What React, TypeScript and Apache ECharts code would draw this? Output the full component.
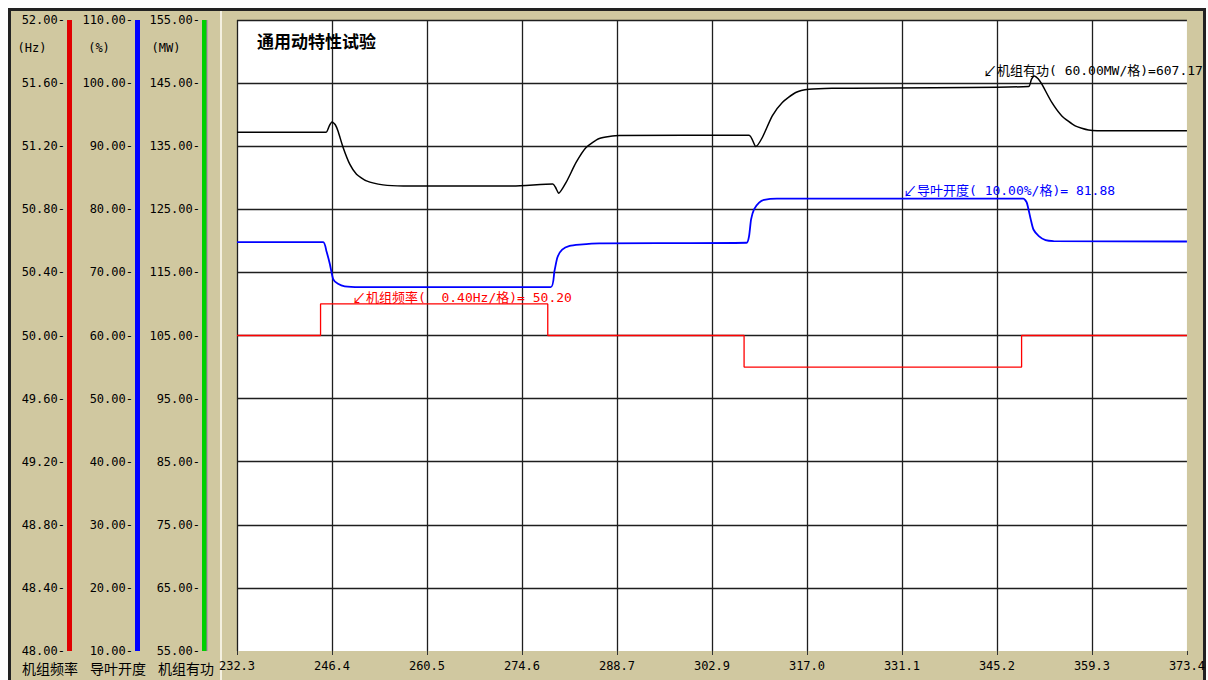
import React, { useEffect, useRef } from "react";
import * as echarts from "echarts";

// ---------- tick labels ----------
const timeTicks = ["232.3", "246.4", "260.5", "274.6", "288.7", "302.9", "317.0", "331.1", "345.2", "359.3", "373.4"];
const hzTicks = ["48.00", "48.40", "48.80", "49.20", "49.60", "50.00", "50.40", "50.80", "51.20", "51.60", "52.00"];
const pctTicks = ["10.00", "20.00", "30.00", "40.00", "50.00", "60.00", "70.00", "80.00", "90.00", "100.00", "110.00"];
const mwTicks = ["55.00", "65.00", "75.00", "85.00", "95.00", "105.00", "115.00", "125.00", "135.00", "145.00", "155.00"];

const TIME_MIN = 232.3;
const TIME_MAX = 373.4;
const HZ_MIN = 48, HZ_MAX = 52;
const PCT_MIN = 10, PCT_MAX = 110;
const MW_MIN = 55, MW_MAX = 155;

// ---------- series data: [time, value] ----------
const frequencyHz: [number, number][] = [
  [232.3, 50.0], [244.71, 50.0], [244.71, 50.2], [278.46, 50.2], [278.46, 50.0],
  [307.62, 50.0], [307.62, 49.8], [348.84, 49.8], [348.84, 50.0], [373.4, 50.0],
];

const guideVanePct: [number, number][] = [
  [232.3, 74.8], [245.1, 74.8], [245.6, 73.3], [246.1, 71.3], [246.6, 68.9], [247.3, 68.2],
  [248.3, 67.8], [250.5, 67.67], [278.9, 67.67], [279.45, 70.2], [279.9, 72.4], [280.6, 73.6],
  [281.7, 74.2], [283.2, 74.4], [286.1, 74.6], [308.0, 74.7], [308.36, 75.75], [308.66, 78.4],
  [309.1, 80.0], [309.85, 81.06], [310.6, 81.5], [312.5, 81.7], [349.1, 81.7], [349.6, 81.1],
  [350.2, 78.4], [350.6, 76.8], [351.4, 75.75], [352.4, 75.1], [353.6, 74.96], [373.4, 74.9],
];

const activePowerMW: [number, number][] = [
  [232.3, 137.2], [245.5, 137.2], [246.0, 138.2], [246.4, 138.85], [246.9, 138.4], [247.3, 137.4],
  [248.06, 134.8], [249.05, 132.15], [250.05, 130.56], [251.53, 129.5], [253.99, 128.87],
  [257.0, 128.7], [273.3, 128.7], [279.2, 129.0], [279.6, 128.5], [280.09, 127.55], [281.18, 129.25],
  [282.67, 132.42], [284.15, 134.79], [286.12, 136.22], [289.09, 136.7], [308.36, 136.74],
  [309.36, 134.95], [310.33, 136.38], [311.81, 139.8], [313.3, 141.93], [315.29, 143.51],
  [317.26, 144.03], [320.67, 144.19], [349.88, 144.46], [350.3, 145.6], [350.72, 146.14],
  [351.3, 145.7], [351.85, 144.83], [353.33, 141.93], [354.82, 139.8], [356.8, 138.22],
  [358.78, 137.58], [362.0, 137.43], [373.4, 137.43],
];

// ---------- texts ----------
const titleText = "通用动特性试验";
const powerNote = "机组有功( 60.00MW/格)=607.17";
const vaneNote = "导叶开度( 10.00%/格)= 81.88";
const freqNote = "机组频率(  0.40Hz/格)= 50.20";
const arrow = "↙";

const TAN = "#d0c8a0";
const MONO = "'DejaVu Sans Mono', 'Noto Sans CJK SC', monospace";
const CJK = "'Noto Sans CJK SC', sans-serif";
const GRID = "#1e1e1e";

const xGridColors = timeTicks.map((_, i) => (i === timeTicks.length - 1 ? "transparent" : GRID));
const yGridColors = hzTicks.map((_, i) => (i === 0 ? "transparent" : GRID));

function catY(data: string[], offset: number, color: string, split: boolean) {
  return {
    type: "category",
    data,
    boundaryGap: false,
    position: "left",
    offset,
    axisLine: { show: true, lineStyle: { color, width: 5, cap: "butt" } },
    axisTick: { show: false },
    axisLabel: {
      interval: 0,
      margin: 4,
      color: "#000",
      fontFamily: MONO,
      fontSize: 12,
      formatter: (v: string) => v + "-",
    },
    splitLine: { show: split, interval: 0, lineStyle: { color: yGridColors, width: 1.3 } },
  };
}

function valY(min: number, max: number) {
  return { type: "value", min, max, show: false, splitLine: { show: false } };
}

function note(x: number, y: number, text: string, fill: string) {
  return {
    type: "text",
    x,
    y,
    z: 50,
    style: {
      text: `{a|${arrow}}${text}`,
      font: `13px ${MONO}`,
      fill,
      align: "left",
      verticalAlign: "middle",
      rich: { a: { font: `14px ${CJK}`, fill } },
    },
  };
}

const option: any = {
  animation: false,
  grid: { left: 237, top: 20, width: 951, height: 631, show: true, backgroundColor: "#fff", borderWidth: 0 },
  xAxis: [
    {
      type: "category",
      data: timeTicks,
      boundaryGap: false,
      position: "bottom",
      axisLine: { show: false },
      axisTick: { show: true, interval: 0, length: 4, lineStyle: { color: "#333" } },
      axisLabel: { interval: 0, margin: 9, color: "#000", fontFamily: MONO, fontSize: 12 },
      splitLine: { show: true, interval: 0, lineStyle: { color: xGridColors, width: 1.3 } },
    },
    { type: "value", min: TIME_MIN, max: TIME_MAX, show: false, splitLine: { show: false } },
  ],
  yAxis: [
    catY(hzTicks, 168, "#e00000", true),
    catY(pctTicks, 100, "#0000ff", false),
    catY(mwTicks, 33, "#00d000", false),
    valY(HZ_MIN, HZ_MAX),
    valY(PCT_MIN, PCT_MAX),
    valY(MW_MIN, MW_MAX),
  ],
  series: [
    {
      name: "机组频率", type: "line", xAxisIndex: 1, yAxisIndex: 3, data: frequencyHz,
      showSymbol: false, lineStyle: { color: "#ff0000", width: 1.3 }, z: 5,
    },
    {
      name: "导叶开度", type: "line", xAxisIndex: 1, yAxisIndex: 4, data: guideVanePct,
      showSymbol: false, smooth: 0.2, lineStyle: { color: "#0000ff", width: 1.8 }, z: 5,
    },
    {
      name: "机组有功", type: "line", xAxisIndex: 1, yAxisIndex: 5, data: activePowerMW,
      showSymbol: false, smooth: 0.2, lineStyle: { color: "#000000", width: 1.5 }, z: 5,
    },
  ],
  graphic: [
    { type: "line", shape: { x1: 207, y1: 20, x2: 207, y2: 651 }, style: { stroke: "#b070b0", lineWidth: 1 }, z: 50 },
    { type: "text", x: 32, y: 48, style: { text: "(Hz)", font: `12px ${MONO}`, fill: "#000", align: "center", verticalAlign: "middle" }, z: 50 },
    { type: "text", x: 99, y: 48, style: { text: "(%)", font: `12px ${MONO}`, fill: "#000", align: "center", verticalAlign: "middle" }, z: 50 },
    { type: "text", x: 166, y: 48, style: { text: "(MW)", font: `12px ${MONO}`, fill: "#000", align: "center", verticalAlign: "middle" }, z: 50 },
    { type: "text", x: 50, y: 668, style: { text: "机组频率", font: `14px ${CJK}`, fill: "#000", align: "center", verticalAlign: "middle" }, z: 50 },
    { type: "text", x: 118, y: 668, style: { text: "导叶开度", font: `14px ${CJK}`, fill: "#000", align: "center", verticalAlign: "middle" }, z: 50 },
    { type: "text", x: 186, y: 668, style: { text: "机组有功", font: `14px ${CJK}`, fill: "#000", align: "center", verticalAlign: "middle" }, z: 50 },
    { type: "text", x: 257, y: 40, style: { text: titleText, font: `bold 17px ${CJK}`, fill: "#000", align: "left", verticalAlign: "middle" }, z: 50 },
    note(983, 70, powerNote, "#000"),
    note(903, 190, vaneNote, "#0000ff"),
    note(352, 297, freqNote, "#ff0000"),
  ],
};

export default function App() {
  const ref = useRef<HTMLDivElement>(null);
  useEffect(() => {
    const chart = echarts.init(ref.current!, undefined, { renderer: "svg" });
    chart.setOption(option);
    return () => chart.dispose();
  }, []);
  return (
    <div style={{ position: "absolute", left: 0, top: 0, width: 1208, height: 680, background: "#fff", overflow: "hidden" }}>
      <div
        style={{
          position: "absolute", left: 8, top: 8, width: 1198, height: 672, boxSizing: "border-box",
          borderTop: "3px solid #222", borderLeft: "3px solid #222", borderRight: "3px solid #222", background: TAN,
        }}
      />
      <div style={{ position: "absolute", left: 220, top: 11, width: 2, height: 669, background: "#f4f0e0" }} />
      <div ref={ref} style={{ position: "absolute", left: 0, top: 0, width: 1208, height: 680 }} />
    </div>
  );
}
